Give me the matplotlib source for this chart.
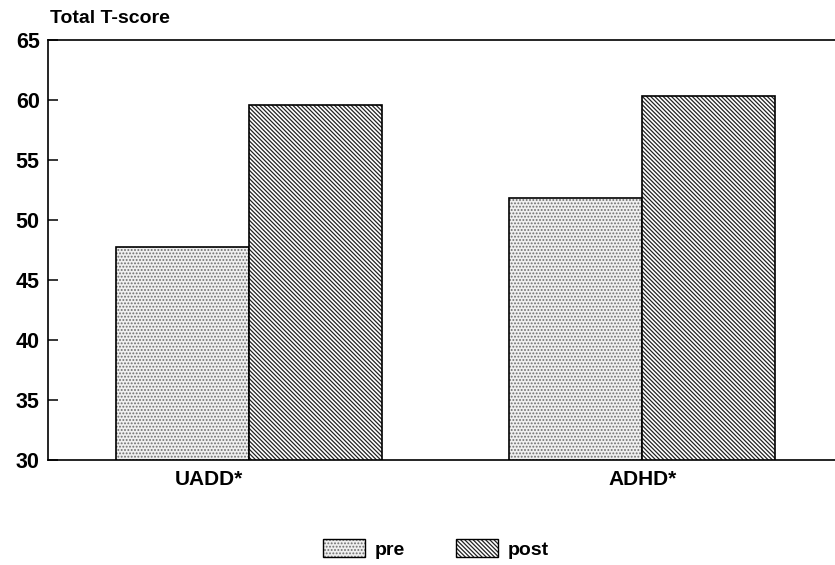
import matplotlib
matplotlib.use("Agg")
import matplotlib.pyplot as plt
from matplotlib.patches import Patch
from matplotlib.legend_handler import HandlerTuple
import numpy as np

plt.rcParams['font.family'] = ['Liberation Sans', 'DejaVu Sans']
plt.rcParams['hatch.linewidth'] = 0.9

# data
groups = ['UADD*', 'ADHD*']
pre = [47.75, 51.85]
post = [59.6, 60.35]
yticks = [30, 35, 40, 45, 50, 55, 60, 65]

dot_color = '#6e6e6e'
line_color = '#222222'
pre_face = '#efefef'
pre_hatch = '.....'
post_hatch = '\\' * 8

fig = plt.figure(figsize=(8.35, 5.65), dpi=100)
ax = fig.add_axes([0.0575, 0.186, 0.9425, 0.743])

x = np.arange(len(groups))
w = 0.338

# hatch layer, then black outline on top
ax.bar(x - w / 2, pre, w, facecolor=pre_face, edgecolor=dot_color,
       hatch=pre_hatch, linewidth=0)
ax.bar(x - w / 2, pre, w, facecolor='none', edgecolor='black', linewidth=1.2)
ax.bar(x + w / 2, post, w, facecolor='white', edgecolor=line_color,
       hatch=post_hatch, linewidth=0)
ax.bar(x + w / 2, post, w, facecolor='none', edgecolor='black', linewidth=1.2)

ax.set_xlim(-0.51, 1.49)
ax.set_ylim(30, 65)
ax.set_yticks(yticks)
ax.set_xticks([-0.1, 1.0])
ax.set_xticklabels(groups)
ax.tick_params(axis='y', direction='in', length=7, width=1.1, labelsize=15.5,
               pad=6)
ax.tick_params(axis='x', length=0, labelsize=15, pad=7)
for lab in ax.get_yticklabels() + ax.get_xticklabels():
    lab.set_fontweight('bold')

ax.spines['right'].set_visible(False)
for s in ['left', 'top', 'bottom']:
    ax.spines[s].set_linewidth(1.2)

fig.text(0.06, 0.953, 'Total T-score', fontsize=14, fontweight='bold',
         ha='left', va='bottom')

pre_h = (Patch(facecolor=pre_face, edgecolor=dot_color, hatch=pre_hatch, linewidth=0),
         Patch(facecolor='none', edgecolor='black', linewidth=1.0))
post_h = (Patch(facecolor='white', edgecolor=line_color, hatch=post_hatch, linewidth=0),
          Patch(facecolor='none', edgecolor='black', linewidth=1.0))
fig.legend([pre_h, post_h], ['pre', 'post'], handler_map={tuple: HandlerTuple(ndivide=1)},
           loc='center', bbox_to_anchor=(0.522, 0.028), ncol=2, frameon=False,
           prop={'size': 14, 'weight': 'bold'}, handlelength=2.15,
           handleheight=1.05, columnspacing=2.6, handletextpad=0.5)

fig.savefig('out.png', dpi=100)
